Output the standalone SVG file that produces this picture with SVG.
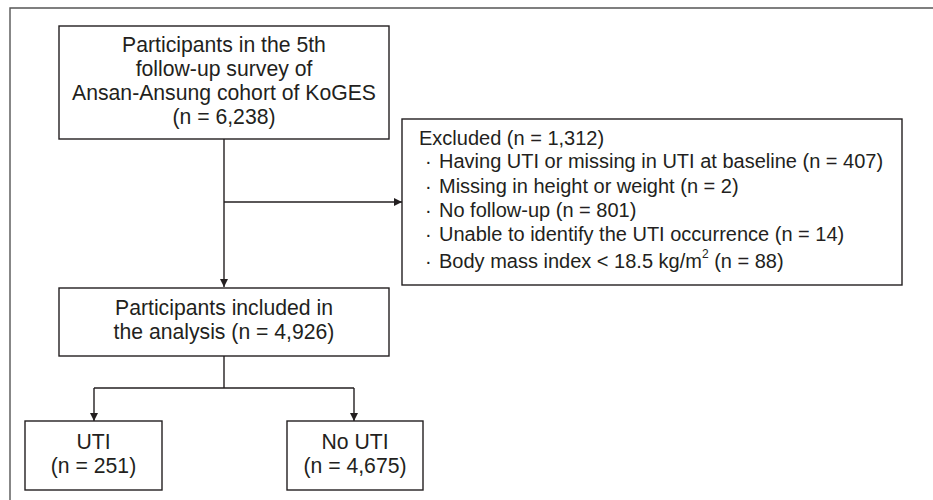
<svg xmlns="http://www.w3.org/2000/svg" width="933" height="500" viewBox="0 0 933 500">
<defs>
<marker id="ah" viewBox="0 0 10 10" refX="10" refY="5" markerWidth="8" markerHeight="8" markerUnits="userSpaceOnUse" orient="auto">
<path d="M0,0 L10,5 L0,10 z" fill="#231f20"/>
</marker>
<style>
.box{fill:#fff;stroke:#231f20;stroke-width:1.4}
.ln{fill:none;stroke:#231f20;stroke-width:1.4}
.t{font-family:"Liberation Sans",Arial,sans-serif;font-size:21.2px;fill:#231f20}
.e{font-size:20px}
.c{text-anchor:middle}
</style>
</defs>
<rect width="933" height="500" fill="#fff"/>
<path d="M10,500 V8 H933" fill="none" stroke="#555" stroke-width="1.4"/>
<g id="connectors">
<path class="ln" d="M224,139 V287" marker-end="url(#ah)"/>
<path class="ln" d="M224,202 H402" marker-end="url(#ah)"/>
<path class="ln" d="M224,356 V388"/>
<path class="ln" d="M94,388 H354"/>
<path class="ln" d="M94,388 V421" marker-end="url(#ah)"/>
<path class="ln" d="M354,388 V421" marker-end="url(#ah)"/>
</g>
<g id="start">
<rect class="box" x="59" y="26" width="330" height="113"/>
<text class="t c" x="224" y="52">Participants in the 5th</text>
<text class="t c" x="224" y="76">follow-up survey of</text>
<text class="t c" x="224" y="100">Ansan-Ansung cohort of KoGES</text>
<text class="t c" x="224" y="124">(n = 6,238)</text>
</g>
<g id="excluded">
<rect class="box" x="402" y="119" width="500" height="166"/>
<text class="t e" x="419" y="145">Excluded (n = 1,312)</text>
<text class="t e" x="425" y="168">· <tspan x="439">Having UTI or missing in UTI at baseline (n = 407)</tspan></text>
<text class="t e" x="425" y="193">· <tspan x="439">Missing in height or weight (n = 2)</tspan></text>
<text class="t e" x="425" y="217">· <tspan x="439">No follow-up (n = 801)</tspan></text>
<text class="t e" x="425" y="241">· <tspan x="439">Unable to identify the UTI occurrence (n = 14)</tspan></text>
<text class="t e" x="425" y="268">· <tspan x="439">Body mass index &lt; 18.5 kg/m<tspan dy="-10" font-size="12">2</tspan><tspan dy="10"> (n = 88)</tspan></tspan></text>
</g>
<g id="included">
<rect class="box" x="59" y="288" width="330" height="68"/>
<text class="t c" x="224" y="315">Participants included in</text>
<text class="t c" x="224" y="339">the analysis (n = 4,926)</text>
</g>
<g id="uti">
<rect class="box" x="25" y="421" width="137" height="69"/>
<text class="t c" x="93.5" y="449">UTI</text>
<text class="t c" x="93.5" y="473">(n = 251)</text>
</g>
<g id="nouti">
<rect class="box" x="287" y="421" width="136" height="69"/>
<text class="t c" x="355" y="449">No UTI</text>
<text class="t c" x="355" y="473">(n = 4,675)</text>
</g>
</svg>
